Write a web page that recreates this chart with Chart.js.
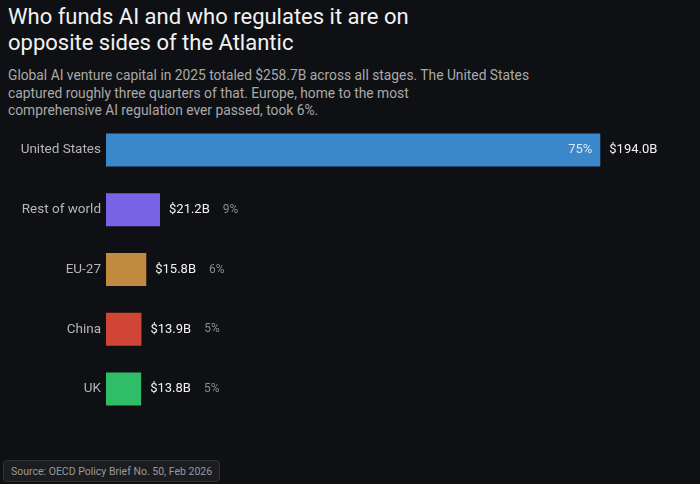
<!DOCTYPE html>
<html lang="en">
<head>
  <meta charset="UTF-8">
  <title>AI venture capital 2025</title>
  <style>
    body { margin: 0; background: #0f1013; font-family: Roboto, Arial, sans-serif; width: 700px; height: 484px; overflow: hidden; position: relative; }
    h1 { position: absolute; left: 8px; top: 4px; margin: 0; font-size: 22px; font-weight: 400; line-height: 26px; color: #f2f2f2; }
    .sub { position: absolute; left: 8px; top: 67px; width: 600px; margin: 0; font-size: 13.8px; line-height: 17.5px; color: #a9a9a9; }
    .chart { position: absolute; left: 0; top: 107px; width: 700px; height: 325px; }
    .src { position: absolute; left: 3px; top: 460px; padding: 4px 7px 3px; font-size: 10.5px; color: #9a9a9a; background: #1c1d20; border: 1px solid #303236; border-radius: 4px; }
  </style>
  <script src="https://cdn.jsdelivr.net/npm/chart.js"></script>
</head>
<body>

<h1>Who funds AI and who regulates it are on<br>opposite sides of the Atlantic</h1>
<p class="sub">Global AI venture capital in 2025 totaled $258.7B across all stages. The United States<br>captured roughly three quarters of that. Europe, home to the most<br>comprehensive AI regulation ever passed, took 6%.</p>
<div class="chart"><canvas id="vcChart"></canvas></div>
<div class="src">Source: OECD Policy Brief No. 50, Feb 2026</div>

<script>
  const regions = ['United States', 'Rest of world', 'EU-27', 'China', 'UK'];
  const funding = [194.0, 21.2, 15.8, 13.9, 13.8]; // $B
  const shares = [75, 9, 6, 5, 5]; // % of total
  const barColors = ['#3a87c9', '#7862e6', '#c28a3f', '#d14536', '#2fbd68'];

  // kwoty i udziały przy słupkach
  const barLabels = {
    id: 'barLabels',
    afterDatasetsDraw(chart) {
      const ctx = chart.ctx;
      const bars = chart.getDatasetMeta(0).data;
      ctx.save();
      ctx.textBaseline = 'middle';
      bars.forEach((bar, i) => {
        const money = '$' + funding[i].toFixed(1) + 'B';
        const pct = shares[i] + '%';
        ctx.font = '13px Roboto, Arial, sans-serif';
        ctx.fillStyle = '#f2f2f2';
        ctx.textAlign = 'left';
        ctx.fillText(money, bar.x + 9, bar.y);
        if (i === 0) {
          ctx.fillStyle = '#d6e7f7';
          ctx.textAlign = 'right';
          ctx.fillText(pct, bar.x - 8, bar.y);
        } else {
          const w = ctx.measureText(money).width;
          ctx.font = '12px Roboto, Arial, sans-serif';
          ctx.fillStyle = '#8a8a8a';
          ctx.fillText(pct, bar.x + 9 + w + 13, bar.y);
        }
      });
      ctx.restore();
    }
  };

  new Chart(document.getElementById('vcChart'), {
    type: 'bar',
    data: {
      labels: regions,
      datasets: [{
        data: funding,
        backgroundColor: barColors,
        borderWidth: 0,
        categoryPercentage: 1,
        barPercentage: 0.55
      }]
    },
    options: {
      indexAxis: 'y',
      responsive: true,
      maintainAspectRatio: false,
      animation: false,
      layout: { padding: { left: 0, right: 8, top: 0, bottom: 0 } },
      plugins: { legend: { display: false }, tooltip: { enabled: false } },
      scales: {
        x: { display: false, min: 0, max: 230 },
        y: {
          grid: { display: false, drawTicks: false },
          border: { display: false },
          ticks: { color: '#b5b5b5', font: { size: 13.5, family: 'Roboto, Arial, sans-serif' }, padding: 5 },
          afterFit(scale) { scale.width = 106; }
        }
      }
    },
    plugins: [barLabels]
  });
</script>

</body>
</html>
